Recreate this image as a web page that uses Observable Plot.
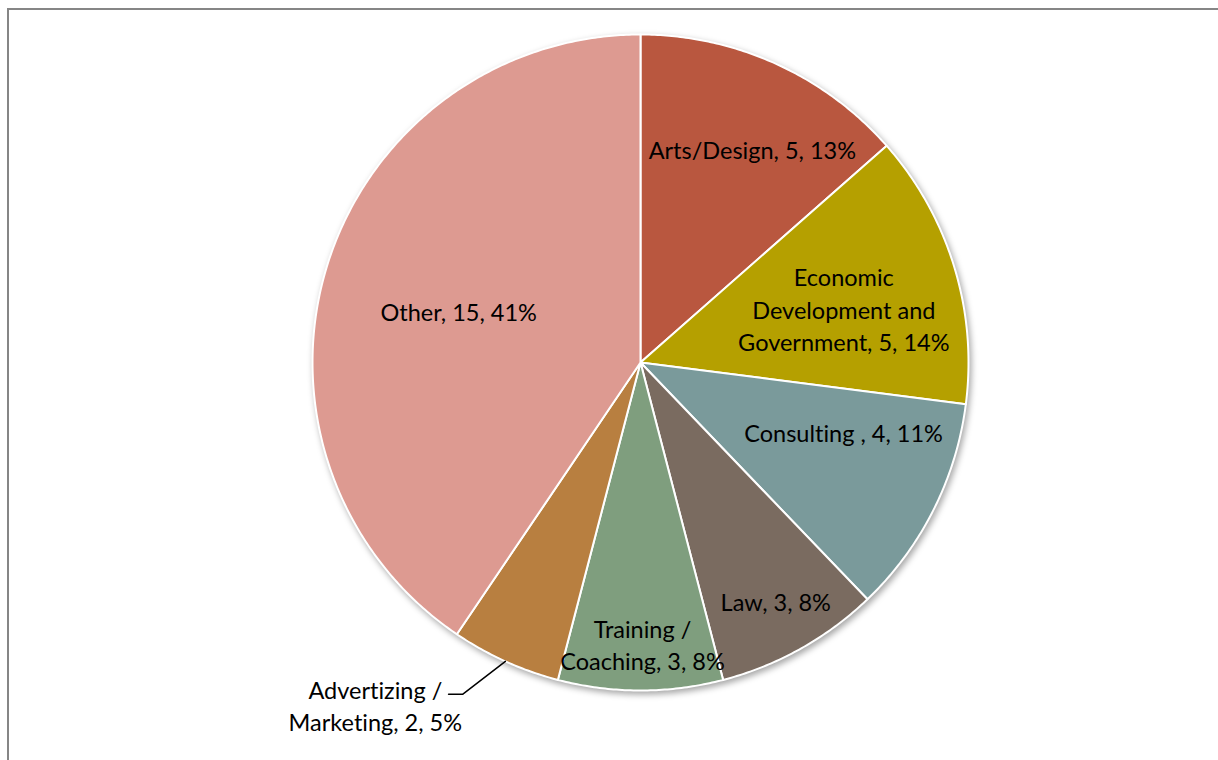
<!DOCTYPE html>
<html>
<head>
<meta charset="utf-8">
<script src="https://cdn.jsdelivr.net/npm/d3@7"></script>
<script src="https://cdn.jsdelivr.net/npm/@observablehq/plot@0.6"></script>
<style>
  html, body { margin: 0; padding: 0; background: #fff; overflow: hidden; }
  #wrap { position: relative; width: 1218px; height: 760px; overflow: hidden; }
  #frame { position: absolute; left: 7px; top: 8px; width: 1400px; height: 1000px;
           border-top: 2px solid #868686; border-left: 2px solid #868686; }
  #chart { position: absolute; left: 0; top: 0; }
  #chart svg text { font-variant-ligatures: none; font-feature-settings: "liga" 0, "clig" 0; }
</style>
</head>
<body>
<div id="wrap"><div id="frame"></div><div id="chart"></div></div>
<script>
// ---- data ----
const categories = ["Arts/Design", "Economic Development and Government", "Consulting ", "Law", "Training / Coaching", "Advertizing / Marketing", "Other"];
const values = [5, 5, 4, 3, 3, 2, 15];
const percentLabels = ["13%", "14%", "11%", "8%", "8%", "5%", "41%"];
const labelLines = [
  "Arts/Design, 5, 13%",
  "Economic\nDevelopment and\nGovernment, 5, 14%",
  "Consulting , 4, 11%",
  "Law, 3, 8%",
  "Training /\nCoaching, 3, 8%",
  "Advertizing /\nMarketing, 2, 5%",
  "Other, 15, 41%"
];
const colors = ["#B9573F", "#B5A000", "#7A9A9B", "#7A6B60", "#7F9E7E", "#B87F40", "#DD9A91"];

// ---- layout (label placement: angle from top in degrees, radius fraction) ----
const labelAt = [[27.8, 0.731], [75.6, 0.64], [109.3, 0.656], [150.6, 0.84], [179.6, 0.863], [217.6, 1.325], [285.4, 0.575]];
const leaderElbows = [null, null, null, null, null, [[208.2, 1.148], [206.5, 1.175]], null];

const W = 1218, H = 760, CX = 640, CY = 362, R = 328;
const rad = d => d * Math.PI / 180;
const polar = (deg, r) => ({x: r * Math.sin(rad(deg)), y: r * Math.cos(rad(deg))});

const total = d3.sum(values);
let acc = 0;
const slices = categories.map((c, i) => {
  const a0 = acc / total * 360;
  acc += values[i];
  const a1 = acc / total * 360;
  return {c, i, a0, a1, mid: (a0 + a1) / 2};
});

const slicePts = [];
for (const s of slices) {
  slicePts.push({c: s.c, x: 0, y: 0});
  const n = Math.max(2, Math.ceil((s.a1 - s.a0) / 0.5));
  for (let k = 0; k <= n; k++) {
    const p = polar(s.a0 + (s.a1 - s.a0) * k / n, 1);
    slicePts.push({c: s.c, ...p});
  }
  slicePts.push({c: s.c, x: 0, y: 0});
}

const labels = slices.map(s => ({c: s.c, text: labelLines[s.i], ...polar(labelAt[s.i][0], labelAt[s.i][1])}));

const leaderPts = [];
slices.forEach(s => {
  const e = leaderElbows[s.i];
  if (!e) return;
  leaderPts.push({c: s.c, ...polar(s.mid, 1)});
  leaderPts.push({c: s.c, ...polar(e[0][0], e[0][1])});
  leaderPts.push({c: s.c, ...polar(e[1][0], e[1][1])});
});
if (leaderPts.length) { leaderPts[2].y = leaderPts[1].y; leaderPts[2].x = leaderPts[1].x - 14 / R; }

const chart = Plot.plot({
  width: W, height: H, margin: 0,
  style: {fontFamily: "Lato, 'Noto Sans', sans-serif", background: "transparent", overflow: "visible"},
  x: {domain: [-CX / R, (W - CX) / R], axis: null},
  y: {domain: [-(H - CY) / R, CY / R], axis: null},
  color: {domain: categories, range: colors},
  marks: [
    Plot.line(slicePts, {x: "x", y: "y", z: "c", fill: "c", stroke: "white", strokeWidth: 2, strokeLinejoin: "round", curve: "linear"}),
    Plot.line(leaderPts, {x: "x", y: "y", z: "c", stroke: "black", strokeWidth: 1.5}),
    Plot.text(labels, {x: "x", y: "y", text: "text", fontSize: 23.5, fill: "black", lineHeight: 1.38, textAnchor: "middle", dy: -2})
  ]
});
document.getElementById("chart").appendChild(chart);
const g = chart.querySelector('g[aria-label="line"]');
if (g) g.style.filter = "drop-shadow(2px 3px 3px rgba(0,0,0,0.35))";
</script>
</body>
</html>
